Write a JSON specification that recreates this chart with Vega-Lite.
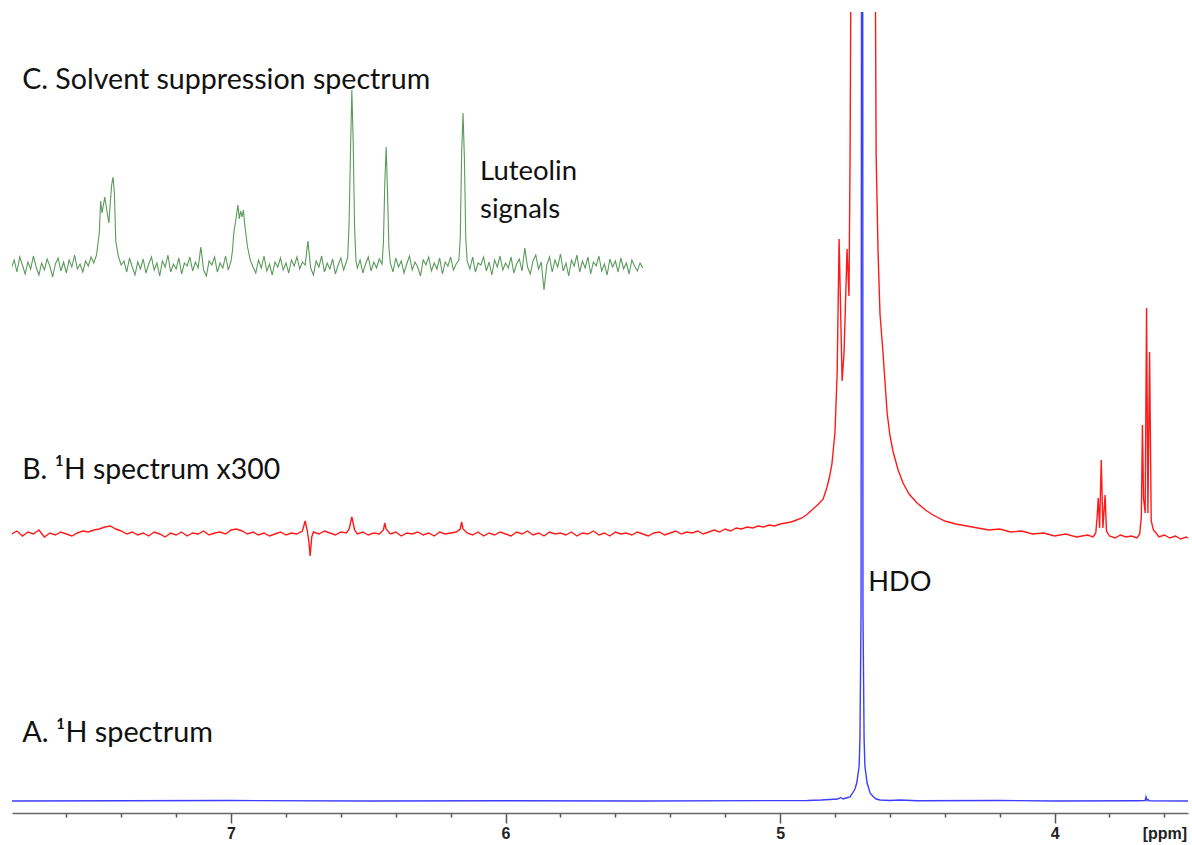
{
  "$schema": "https://vega.github.io/schema/vega-lite/v6.json",
  "autosize": {"type": "none"},
  "width": 1176,
  "height": 801,
  "padding": {"left": 12, "top": 12, "right": 4, "bottom": 32},
  "background": "white",
  "config": {
    "view": {"stroke": null},
    "axisX": {
      "title": null, "grid": false,
      "labelFont": "Liberation Sans", "labelFontWeight": "bold", "labelFontSize": 16, "labelColor": "#222",
      "labelOverlap": false, "labelFlush": false, "labelBound": false,
      "domainColor": "#666", "domainWidth": 1.5, "tickColor": "#555", "tickWidth": 1.5
    },
    "text": {"font": "Lato", "align": "left", "baseline": "middle", "color": "#111"}
  },
  "datasets": {
    "C": [
      {"x":7.80,"y":545},{"x":7.79,"y":553},{"x":7.78,"y":541},{"x":7.77,"y":556},{"x":7.76,"y":548},{"x":7.75,"y":539},{"x":7.74,"y":551},{"x":7.73,"y":544},{"x":7.72,"y":557},{"x":7.71,"y":546},
      {"x":7.70,"y":538},{"x":7.69,"y":550},{"x":7.68,"y":543},{"x":7.67,"y":554},{"x":7.66,"y":547},{"x":7.65,"y":536},{"x":7.64,"y":549},{"x":7.63,"y":555},{"x":7.62,"y":542},{"x":7.61,"y":551},
      {"x":7.60,"y":540},{"x":7.59,"y":553},{"x":7.58,"y":546},{"x":7.57,"y":558},{"x":7.56,"y":544},{"x":7.55,"y":549},{"x":7.54,"y":541},{"x":7.53,"y":552},{"x":7.52,"y":547},{"x":7.51,"y":556},
      {"x":7.50,"y":550},{"x":7.49,"y":558},{"x":7.48,"y":580},{"x":7.475,"y":612},{"x":7.47,"y":600},{"x":7.46,"y":616},{"x":7.45,"y":598},{"x":7.445,"y":590},{"x":7.44,"y":610},{"x":7.435,"y":628},
      {"x":7.43,"y":636},{"x":7.425,"y":620},{"x":7.42,"y":572},{"x":7.41,"y":556},{"x":7.40,"y":548},{"x":7.39,"y":552},{"x":7.38,"y":541},{"x":7.37,"y":555},{"x":7.36,"y":546},{"x":7.35,"y":538},
      {"x":7.34,"y":551},{"x":7.33,"y":544},{"x":7.32,"y":554},{"x":7.31,"y":540},{"x":7.30,"y":549},{"x":7.29,"y":556},{"x":7.28,"y":543},{"x":7.27,"y":550},{"x":7.26,"y":537},{"x":7.25,"y":552},
      {"x":7.24,"y":546},{"x":7.23,"y":558},{"x":7.22,"y":541},{"x":7.21,"y":549},{"x":7.20,"y":544},{"x":7.19,"y":555},{"x":7.18,"y":539},{"x":7.17,"y":550},{"x":7.16,"y":547},{"x":7.15,"y":556},
      {"x":7.14,"y":542},{"x":7.13,"y":551},{"x":7.12,"y":545},{"x":7.11,"y":566},{"x":7.10,"y":543},{"x":7.09,"y":537},{"x":7.08,"y":552},{"x":7.07,"y":548},{"x":7.06,"y":556},{"x":7.05,"y":541},
      {"x":7.04,"y":550},{"x":7.03,"y":545},{"x":7.02,"y":557},{"x":7.01,"y":543},{"x":7.00,"y":552},{"x":6.995,"y":562},{"x":6.99,"y":580},{"x":6.98,"y":598},{"x":6.975,"y":608},{"x":6.97,"y":594},
      {"x":6.965,"y":602},{"x":6.96,"y":596},{"x":6.955,"y":603},{"x":6.95,"y":588},{"x":6.94,"y":566},{"x":6.93,"y":553},{"x":6.92,"y":546},{"x":6.91,"y":540},{"x":6.90,"y":553},{"x":6.89,"y":545},
      {"x":6.88,"y":557},{"x":6.87,"y":542},{"x":6.86,"y":549},{"x":6.85,"y":538},{"x":6.84,"y":551},{"x":6.83,"y":546},{"x":6.82,"y":555},{"x":6.81,"y":543},{"x":6.80,"y":550},{"x":6.79,"y":540},
      {"x":6.78,"y":553},{"x":6.77,"y":547},{"x":6.76,"y":556},{"x":6.75,"y":544},{"x":6.74,"y":551},{"x":6.73,"y":548},{"x":6.72,"y":572},{"x":6.71,"y":545},{"x":6.70,"y":538},{"x":6.69,"y":552},
      {"x":6.68,"y":546},{"x":6.67,"y":557},{"x":6.66,"y":541},{"x":6.65,"y":550},{"x":6.64,"y":544},{"x":6.63,"y":554},{"x":6.62,"y":539},{"x":6.61,"y":548},{"x":6.60,"y":555},{"x":6.59,"y":543},
      {"x":6.58,"y":551},{"x":6.575,"y":556},{"x":6.57,"y":590},{"x":6.565,"y":660},{"x":6.56,"y":723},{"x":6.555,"y":670},{"x":6.55,"y":585},{"x":6.545,"y":552},{"x":6.54,"y":545},{"x":6.53,"y":553},
      {"x":6.52,"y":540},{"x":6.51,"y":549},{"x":6.50,"y":556},{"x":6.49,"y":542},{"x":6.48,"y":551},{"x":6.47,"y":545},{"x":6.46,"y":554},{"x":6.45,"y":549},{"x":6.445,"y":570},{"x":6.44,"y":630},
      {"x":6.435,"y":666},{"x":6.43,"y":620},{"x":6.425,"y":566},{"x":6.42,"y":550},{"x":6.41,"y":541},{"x":6.40,"y":555},{"x":6.39,"y":546},{"x":6.38,"y":552},{"x":6.37,"y":540},{"x":6.36,"y":549},
      {"x":6.35,"y":557},{"x":6.34,"y":543},{"x":6.33,"y":551},{"x":6.32,"y":546},{"x":6.31,"y":537},{"x":6.30,"y":553},{"x":6.29,"y":548},{"x":6.28,"y":556},{"x":6.27,"y":542},{"x":6.26,"y":550},
      {"x":6.25,"y":544},{"x":6.24,"y":555},{"x":6.23,"y":539},{"x":6.22,"y":551},{"x":6.21,"y":547},{"x":6.20,"y":556},{"x":6.19,"y":543},{"x":6.18,"y":549},{"x":6.17,"y":553},{"x":6.165,"y":575},
      {"x":6.16,"y":660},{"x":6.155,"y":700},{"x":6.15,"y":655},{"x":6.145,"y":575},{"x":6.14,"y":552},{"x":6.13,"y":544},{"x":6.12,"y":556},{"x":6.11,"y":541},{"x":6.10,"y":550},{"x":6.09,"y":548},
      {"x":6.08,"y":556},{"x":6.07,"y":542},{"x":6.06,"y":551},{"x":6.05,"y":538},{"x":6.04,"y":553},{"x":6.03,"y":546},{"x":6.02,"y":557},{"x":6.01,"y":543},{"x":6.00,"y":550},{"x":5.99,"y":545},
      {"x":5.98,"y":556},{"x":5.97,"y":540},{"x":5.96,"y":549},{"x":5.95,"y":554},{"x":5.94,"y":542},{"x":5.93,"y":565},{"x":5.92,"y":546},{"x":5.91,"y":539},{"x":5.90,"y":552},{"x":5.89,"y":558},
      {"x":5.88,"y":544},{"x":5.87,"y":551},{"x":5.86,"y":523},{"x":5.85,"y":548},{"x":5.84,"y":556},{"x":5.83,"y":541},{"x":5.82,"y":553},{"x":5.81,"y":546},{"x":5.80,"y":559},{"x":5.79,"y":542},
      {"x":5.78,"y":550},{"x":5.77,"y":537},{"x":5.76,"y":553},{"x":5.75,"y":547},{"x":5.74,"y":558},{"x":5.73,"y":541},{"x":5.72,"y":552},{"x":5.71,"y":545},{"x":5.70,"y":556},{"x":5.69,"y":539},
      {"x":5.68,"y":551},{"x":5.67,"y":547},{"x":5.66,"y":557},{"x":5.65,"y":542},{"x":5.64,"y":549},{"x":5.63,"y":538},{"x":5.62,"y":554},{"x":5.61,"y":546},{"x":5.60,"y":552},{"x":5.59,"y":541},
      {"x":5.58,"y":555},{"x":5.57,"y":544},{"x":5.56,"y":550},{"x":5.55,"y":539},{"x":5.54,"y":553},{"x":5.53,"y":547},{"x":5.52,"y":542},{"x":5.51,"y":550},{"x":5.50,"y":545}
    ],
    "B": [
      {"x":7.80,"y":279},{"x":7.78,"y":282},{"x":7.76,"y":277},{"x":7.74,"y":281},{"x":7.72,"y":279},{"x":7.70,"y":283},{"x":7.68,"y":276},{"x":7.66,"y":280},{"x":7.64,"y":278},{"x":7.62,"y":281},
      {"x":7.60,"y":279},{"x":7.58,"y":277},{"x":7.56,"y":280},{"x":7.54,"y":282},{"x":7.52,"y":281},{"x":7.50,"y":283},{"x":7.48,"y":284},{"x":7.46,"y":286},{"x":7.44,"y":287},{"x":7.42,"y":284},
      {"x":7.40,"y":282},{"x":7.38,"y":279},{"x":7.36,"y":281},{"x":7.34,"y":278},{"x":7.32,"y":280},{"x":7.30,"y":277},{"x":7.28,"y":281},{"x":7.26,"y":279},{"x":7.24,"y":276},{"x":7.22,"y":280},
      {"x":7.20,"y":278},{"x":7.18,"y":281},{"x":7.16,"y":277},{"x":7.14,"y":280},{"x":7.12,"y":279},{"x":7.10,"y":282},{"x":7.08,"y":278},{"x":7.06,"y":280},{"x":7.04,"y":281},{"x":7.02,"y":279},
      {"x":7.00,"y":283},{"x":6.98,"y":284},{"x":6.96,"y":282},{"x":6.94,"y":279},{"x":6.92,"y":281},{"x":6.90,"y":278},{"x":6.88,"y":280},{"x":6.86,"y":277},{"x":6.84,"y":279},{"x":6.82,"y":281},
      {"x":6.80,"y":278},{"x":6.78,"y":280},{"x":6.76,"y":279},{"x":6.74,"y":282},{"x":6.73,"y":292},{"x":6.722,"y":282},{"x":6.716,"y":270},{"x":6.712,"y":257},{"x":6.706,"y":276},{"x":6.70,"y":281},
      {"x":6.68,"y":279},{"x":6.66,"y":282},{"x":6.64,"y":280},{"x":6.62,"y":278},{"x":6.60,"y":281},{"x":6.58,"y":280},{"x":6.57,"y":284},{"x":6.56,"y":296},{"x":6.55,"y":283},{"x":6.54,"y":279},
      {"x":6.52,"y":281},{"x":6.50,"y":278},{"x":6.48,"y":280},{"x":6.46,"y":279},{"x":6.445,"y":283},{"x":6.44,"y":290},{"x":6.435,"y":284},{"x":6.42,"y":279},{"x":6.40,"y":281},{"x":6.38,"y":277},
      {"x":6.36,"y":280},{"x":6.34,"y":279},{"x":6.32,"y":281},{"x":6.30,"y":278},{"x":6.28,"y":280},{"x":6.26,"y":277},{"x":6.24,"y":281},{"x":6.22,"y":279},{"x":6.20,"y":280},{"x":6.18,"y":281},
      {"x":6.165,"y":284},{"x":6.16,"y":291},{"x":6.155,"y":284},{"x":6.14,"y":280},{"x":6.12,"y":278},{"x":6.10,"y":281},{"x":6.08,"y":277},{"x":6.06,"y":280},{"x":6.04,"y":278},{"x":6.02,"y":281},
      {"x":6.00,"y":279},{"x":5.98,"y":277},{"x":5.96,"y":281},{"x":5.94,"y":279},{"x":5.92,"y":282},{"x":5.90,"y":278},{"x":5.88,"y":280},{"x":5.86,"y":277},{"x":5.84,"y":281},{"x":5.82,"y":279},
      {"x":5.80,"y":280},{"x":5.78,"y":278},{"x":5.76,"y":281},{"x":5.74,"y":277},{"x":5.72,"y":280},{"x":5.70,"y":279},{"x":5.68,"y":282},{"x":5.66,"y":278},{"x":5.64,"y":280},{"x":5.62,"y":277},
      {"x":5.60,"y":281},{"x":5.58,"y":279},{"x":5.56,"y":280},{"x":5.54,"y":278},{"x":5.52,"y":281},{"x":5.50,"y":279},{"x":5.48,"y":277},{"x":5.46,"y":280},{"x":5.44,"y":281},{"x":5.42,"y":278},
      {"x":5.40,"y":280},{"x":5.38,"y":282},{"x":5.36,"y":279},{"x":5.34,"y":281},{"x":5.32,"y":280},{"x":5.30,"y":282},{"x":5.28,"y":279},{"x":5.26,"y":281},{"x":5.24,"y":283},{"x":5.22,"y":281},
      {"x":5.20,"y":284},{"x":5.18,"y":282},{"x":5.16,"y":285},{"x":5.14,"y":284},{"x":5.12,"y":286},{"x":5.10,"y":285},{"x":5.08,"y":287},{"x":5.06,"y":286},{"x":5.04,"y":288},{"x":5.02,"y":287},
      {"x":5.00,"y":289},{"x":4.98,"y":290},{"x":4.96,"y":291},{"x":4.94,"y":293},{"x":4.92,"y":295},{"x":4.90,"y":299},{"x":4.88,"y":304},{"x":4.86,"y":309},{"x":4.843,"y":314},{"x":4.83,"y":325},
      {"x":4.82,"y":336},{"x":4.811,"y":349},{"x":4.800,"y":381},{"x":4.792,"y":440},{"x":4.785,"y":574},{"x":4.774,"y":432},{"x":4.767,"y":460},{"x":4.756,"y":564},{"x":4.749,"y":517},{"x":4.745,"y":657},
      {"x":4.741,"y":900},{"x":4.72,"y":3000},{"x":4.70,"y":6000},{"x":4.68,"y":3000},{"x":4.654,"y":900},{"x":4.650,"y":657},{"x":4.643,"y":560},{"x":4.636,"y":499},{"x":4.625,"y":460},{"x":4.617,"y":428},
      {"x":4.610,"y":400},{"x":4.600,"y":378},{"x":4.588,"y":361},{"x":4.570,"y":343},{"x":4.552,"y":330},{"x":4.530,"y":319},{"x":4.501,"y":310},{"x":4.470,"y":303},{"x":4.443,"y":298},{"x":4.40,"y":292},
      {"x":4.36,"y":289},{"x":4.32,"y":287},{"x":4.28,"y":285},{"x":4.24,"y":283},{"x":4.20,"y":284},{"x":4.16,"y":281},
      {"x":4.12,"y":282},{"x":4.08,"y":279},{"x":4.04,"y":280},{"x":4.00,"y":277},{"x":3.96,"y":279},{"x":3.92,"y":276},{"x":3.88,"y":278},{"x":3.86,"y":276},{"x":3.85,"y":280},{"x":3.845,"y":296},
      {"x":3.841,"y":315},{"x":3.836,"y":285},{"x":3.830,"y":353},{"x":3.824,"y":285},{"x":3.816,"y":318},{"x":3.811,"y":282},{"x":3.80,"y":277},{"x":3.78,"y":275},{"x":3.76,"y":278},{"x":3.74,"y":276},
      {"x":3.72,"y":277},{"x":3.70,"y":275},{"x":3.69,"y":279},{"x":3.684,"y":296},{"x":3.680,"y":388},{"x":3.676,"y":315},{"x":3.670,"y":300},{"x":3.665,"y":505},{"x":3.660,"y":300},{"x":3.654,"y":461},
      {"x":3.648,"y":292},{"x":3.640,"y":283},{"x":3.63,"y":280},{"x":3.62,"y":276},{"x":3.60,"y":278},{"x":3.58,"y":275},{"x":3.56,"y":277},{"x":3.54,"y":274},{"x":3.52,"y":276},{"x":3.514,"y":275}
    ],
    "A": [
      {"x":7.80,"y":12},{"x":7.0,"y":12.5},{"x":6.5,"y":12},{"x":6.0,"y":12.3},{"x":5.5,"y":12},{"x":5.0,"y":12.4},{"x":4.90,"y":12.5},{"x":4.85,"y":13},{"x":4.82,"y":13.5},{"x":4.79,"y":14},
      {"x":4.78,"y":15.5},{"x":4.77,"y":14},{"x":4.76,"y":15},{"x":4.745,"y":16},{"x":4.738,"y":19},{"x":4.727,"y":24},{"x":4.720,"y":31},{"x":4.712,"y":47},{"x":4.709,"y":75},{"x":4.705,"y":200},
      {"x":4.7025,"y":1200},{"x":4.701,"y":6000},{"x":4.6995,"y":1200},{"x":4.698,"y":200},{"x":4.694,"y":75},{"x":4.691,"y":47},{"x":4.683,"y":30},{"x":4.672,"y":20},{"x":4.661,"y":16.5},{"x":4.650,"y":14},
      {"x":4.636,"y":13},{"x":4.60,"y":12.5},{"x":4.563,"y":13},{"x":4.50,"y":12.3},{"x":4.2,"y":12.5},{"x":4.0,"y":12},{"x":3.70,"y":12.3},{"x":3.670,"y":12.5},{"x":3.667,"y":16},{"x":3.663,"y":12.5},
      {"x":3.66,"y":13.5},{"x":3.655,"y":12.3},{"x":3.514,"y":12}
    ],
    "one": [{"n": 1}]
  },
  "layer": [
    {"data": {"name": "C"}, "mark": {"type": "line", "color": "#5a9a5a", "strokeWidth": 1.1, "clip": true},
     "encoding": {
      "x": {
        "field": "x", "type": "quantitative",
        "scale": {"domain": [7.798, 3.514], "nice": false, "zero": false},
        "axis": {
          "values": [7.6,7.4,7.2,7,6.8,6.6,6.4,6.2,6,5.8,5.6,5.4,5.2,5,4.8,4.6,4.4,4.2,4,3.8,3.6],
          "tickSize": {"condition": {"test": "datum.value % 1 === 0", "value": 10}, "value": 4},
          "labelExpr": "abs(datum.value - 3.6) < 0.01 ? '[ppm]' : (abs(datum.value % 1) < 0.001 ? format(datum.value, 'd') : '')",
          "labelPadding": {"condition": {"test": "abs(datum.value - 3.6) < 0.01", "value": 8}, "value": 2},
          "labelFontSize": 16, "labelFont": "Liberation Sans", "labelFontWeight": "bold"
        }
      },
      "y": {"field": "y", "type": "quantitative", "scale": {"domain": [0, 801], "nice": false, "zero": false}, "axis": null}
     }},
    {"data": {"name": "B"}, "mark": {"type": "line", "color": "#ff1a1a", "strokeWidth": 1.4, "clip": true},
     "encoding": {"x": {"field": "x", "type": "quantitative"}, "y": {"field": "y", "type": "quantitative"}}},
    {"data": {"name": "A"}, "mark": {"type": "line", "color": "#3d3dff", "strokeWidth": 1.4, "clip": true},
     "encoding": {"x": {"field": "x", "type": "quantitative"}, "y": {"field": "y", "type": "quantitative"}}},
    {"data": {"name": "one"}, "mark": {"type": "text", "fontSize": 28.6},
     "encoding": {"x": {"datum": 7.761, "type": "quantitative"}, "y": {"datum": 733, "type": "quantitative"}, "text": {"value": "C. Solvent suppression spectrum"}}},
    {"data": {"name": "one"}, "mark": {"type": "text", "fontSize": 27.5},
     "encoding": {"x": {"datum": 6.093, "type": "quantitative"}, "y": {"datum": 641, "type": "quantitative"}, "text": {"value": "Luteolin"}}},
    {"data": {"name": "one"}, "mark": {"type": "text", "fontSize": 27.5},
     "encoding": {"x": {"datum": 6.093, "type": "quantitative"}, "y": {"datum": 603, "type": "quantitative"}, "text": {"value": "signals"}}},
    {"data": {"name": "one"}, "mark": {"type": "text", "fontSize": 28.4},
     "encoding": {"x": {"datum": 7.761, "type": "quantitative"}, "y": {"datum": 343, "type": "quantitative"}, "text": {"value": "B. ¹H spectrum x300"}}},
    {"data": {"name": "one"}, "mark": {"type": "text", "fontSize": 27.2},
     "encoding": {"x": {"datum": 4.679, "type": "quantitative"}, "y": {"datum": 230, "type": "quantitative"}, "text": {"value": "HDO"}}},
    {"data": {"name": "one"}, "mark": {"type": "text", "fontSize": 28.8},
     "encoding": {"x": {"datum": 7.761, "type": "quantitative"}, "y": {"datum": 80, "type": "quantitative"}, "text": {"value": "A. ¹H spectrum"}}}
  ]
}
